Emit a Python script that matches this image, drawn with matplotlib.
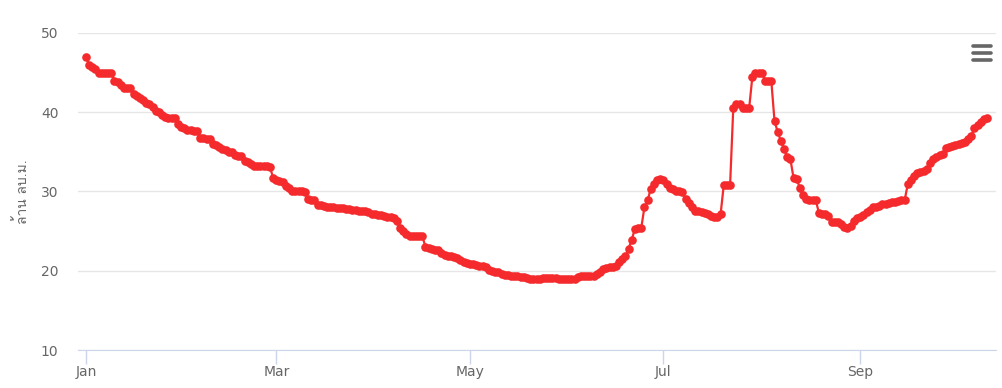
import matplotlib
matplotlib.use("Agg")
import matplotlib.pyplot as plt
import matplotlib.dates as mdates
from matplotlib import font_manager
from matplotlib.ft2font import FT2Font
from matplotlib.lines import Line2D
import numpy as np
import pandas as pd

START = "2020-01-01"
Y_LABEL = "ล้าน ลบ.ม."
TICK_MONTHS = [1, 3, 5, 7, 9]

jan = [47.0, 46.0, 45.7, 45.5, 45.0, 45.0, 45.0, 45.0, 44.9, 44.0, 43.8, 43.4, 43.1, 43.1, 43.0, 42.3,
       42.0, 41.8, 41.6, 41.2, 41.0, 40.6, 40.2, 40.0, 39.7, 39.4, 39.3, 39.3, 39.3, 38.5, 38.2]
feb = [38.0, 37.8, 37.7, 37.6, 37.6, 36.8, 36.7, 36.6, 36.6, 36.0, 35.9, 35.6, 35.4, 35.2, 35.0, 35.0,
       34.6, 34.5, 34.5, 33.9, 33.7, 33.5, 33.2, 33.2, 33.2, 33.2, 33.2, 33.1, 31.7]
mar = [31.5, 31.3, 31.2, 30.7, 30.4, 30.1, 30.0, 30.0, 30.0, 29.9, 29.0, 28.9, 28.9, 28.3, 28.3, 28.2,
       28.1, 28.0, 28.0, 27.9, 27.9, 27.9, 27.8, 27.8, 27.7, 27.7, 27.6, 27.6, 27.5, 27.4, 27.2]
apr = [27.1, 27.0, 27.0, 26.9, 26.8, 26.8, 26.7, 26.3, 25.4, 25.0, 24.6, 24.4, 24.4, 24.4, 24.4, 24.4,
       23.0, 22.9, 22.7, 22.6, 22.6, 22.2, 22.0, 21.9, 21.8, 21.7, 21.6, 21.4, 21.1, 21.0]
may = [20.9, 20.8, 20.7, 20.6, 20.6, 20.5, 20.1, 20.0, 19.9, 19.8, 19.6, 19.5, 19.5, 19.4, 19.3, 19.3,
       19.2, 19.2, 19.1, 19.0, 19.0, 19.0, 19.0, 19.1, 19.1, 19.1, 19.1, 19.1, 18.9, 18.9, 18.9]
jun = [18.9, 18.9, 18.9, 19.2, 19.3, 19.3, 19.3, 19.3, 19.4, 19.6, 19.9, 20.2, 20.3, 20.5, 20.5, 20.6,
       21.1, 21.5, 21.8, 22.8, 23.9, 25.3, 25.4, 25.4, 28.0, 28.9, 30.3, 31.0, 31.5, 31.6]
jul = [31.4, 31.0, 30.5, 30.3, 30.1, 30.0, 29.9, 29.0, 28.5, 28.0, 27.6, 27.5, 27.4, 27.3, 27.1, 26.9,
       26.8, 26.8, 27.1, 30.8, 30.8, 30.8, 40.5, 41.1, 41.0, 40.5, 40.5, 40.5, 44.4, 45.0, 45.0]
aug = [45.0, 44.0, 43.9, 43.9, 38.9, 37.5, 36.4, 35.4, 34.3, 34.1, 31.7, 31.6, 30.4, 29.5, 29.0, 28.9,
       28.9, 28.9, 27.3, 27.2, 27.1, 26.9, 26.2, 26.1, 26.1, 25.9, 25.5, 25.4, 25.6, 26.3, 26.7]
sep = [26.8, 27.0, 27.4, 27.7, 28.0, 28.1, 28.2, 28.4, 28.4, 28.6, 28.7, 28.7, 28.8, 28.9, 28.9, 30.9,
       31.5, 32.0, 32.3, 32.5, 32.6, 32.8, 33.6, 34.1, 34.4, 34.6, 34.7, 35.5, 35.6, 35.8]
oct_ = [35.9, 36.0, 36.1, 36.2, 36.6, 37.0, 38.0, 38.4, 38.8, 39.2, 39.3]

values = jan + feb + mar + apr + may + jun + jul + aug + sep + oct_
dates = pd.date_range(START, periods=len(values), freq="D")


def thai_font():
    # pick any installed font that actually has Thai glyphs
    for f in font_manager.fontManager.ttflist:
        try:
            cmap = FT2Font(f.fname).get_charmap()
        except Exception:
            continue
        if ord("ล") in cmap and ord("บ") in cmap:
            return f.name
    return "DejaVu Sans"


fig = plt.figure(figsize=(10.02, 3.88), dpi=100)
ax = fig.add_axes([78 / 1002, 38 / 388, 918 / 1002, 317 / 388])

ax.plot(dates, values, color="#f42a2c", lw=1.6, marker="o", ms=6.2,
        markeredgewidth=0, zorder=3)

ax.set_ylim(10, 50)
ax.set_yticks([10, 20, 30, 40, 50])
ax.set_xlim(pd.Timestamp(START) - pd.Timedelta(days=2.5),
            pd.Timestamp(START) + pd.Timedelta(days=286.8))
ax.xaxis.set_major_locator(mdates.MonthLocator(bymonth=TICK_MONTHS))
ax.xaxis.set_major_formatter(mdates.DateFormatter("%b"))

ax.grid(axis="y", color="#e6e6e6", lw=1)
ax.set_axisbelow(True)
for s in ["top", "right", "left"]:
    ax.spines[s].set_visible(False)
ax.spines["bottom"].set_color("#ccd6eb")
ax.spines["bottom"].set_zorder(1)
ax.tick_params(axis="y", length=0, pad=14, labelsize=10, labelcolor="#666666")
ax.tick_params(axis="x", length=10, width=1, color="#ccd6eb", pad=1,
               labelsize=10, labelcolor="#666666")

ax.set_ylabel(Y_LABEL, family=[thai_font(), "DejaVu Sans"], fontsize=10,
              color="#666666", labelpad=8)

# export menu icon
for yy in [342, 335, 328]:
    fig.add_artist(Line2D([973 / 1002, 991 / 1002], [yy / 388, yy / 388],
                          color="#666666", lw=2.6, solid_capstyle="round"))

fig.savefig("out.png", dpi=100)
